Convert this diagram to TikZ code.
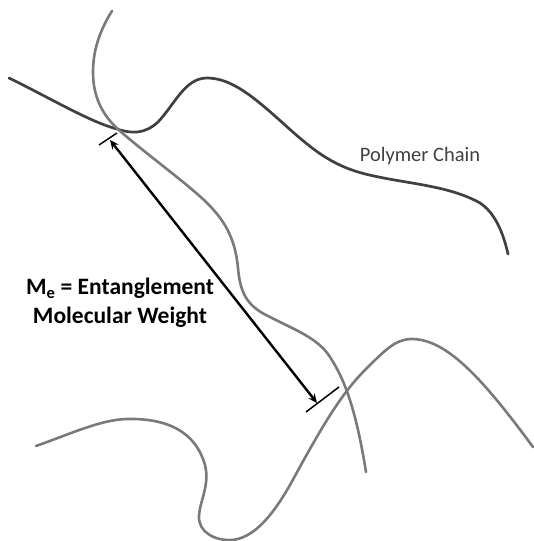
\documentclass[tikz,border=0pt]{standalone}
\usepackage{fontspec}
\setmainfont{Carlito}
\usetikzlibrary{arrows.meta}
\definecolor{darkchain}{HTML}{404040}
\definecolor{graychain}{HTML}{7A7A7A}
\begin{document}
\begin{tikzpicture}[x=1pt,y=-1pt,
  chainA/.style={draw=darkchain,line width=2.7pt,line cap=round},
  chainB/.style={draw=graychain,line width=2.6pt,line cap=round},
  tick/.style={draw=black,line width=1.5pt},
  dimarrow/.style={draw=black,line width=2.4pt,{Stealth[length=9pt,width=8pt]}-{Stealth[length=9pt,width=8pt]}}]
\useasboundingbox (0,0) rectangle (533,541);
% dark polymer chain
\draw[chainA] (9,78) .. controls (50,98) and (90,122) .. (117,129)
  .. controls (132,134) and (145,134) .. (158,122)
  .. controls (175,104) and (185,78) .. (207,78)
  .. controls (232,78) and (255,98) .. (285,125)
  .. controls (315,152) and (335,168) .. (374,176)
  .. controls (410,184) and (450,186) .. (480,203)
  .. controls (495,213) and (503,232) .. (508,254);
% gray chain 1
\draw[chainB] (112,11) .. controls (100,30) and (93,50) .. (93,72)
  .. controls (93,100) and (105,118) .. (120,131)
  .. controls (145,153) and (180,178) .. (204,200)
  .. controls (225,220) and (235,238) .. (238,268)
  .. controls (240,290) and (245,305) .. (268,316)
  .. controls (295,330) and (318,338) .. (330,357)
  .. controls (345,380) and (356,410) .. (366,472);
% gray chain 2
\draw[chainB] (36,446) .. controls (70,434) and (100,420) .. (126,419)
  .. controls (165,418) and (195,430) .. (205,465)
  .. controls (210,485) and (200,500) .. (199,516)
  .. controls (198,532) and (215,541) .. (232,540)
  .. controls (252,538) and (270,520) .. (290,485)
  .. controls (320,430) and (340,395) .. (365,370)
  .. controls (385,350) and (395,340) .. (410,339)
  .. controls (445,338) and (480,375) .. (533,447);
% ticks
\coordinate (t1a) at (99,145);
\coordinate (t1b) at (117,133);
\coordinate (t2a) at (306,412);
\coordinate (t2b) at (339,387);
\draw[tick] (t1a) -- (t1b);
\draw[tick] (t2a) -- (t2b);
\coordinate (a1) at (110,140);
\coordinate (a2) at (317,403);
\draw[dimarrow] (a1) -- (a2);
% labels
\node[text=darkchain,font=\fontsize{20.5}{24}\selectfont] (pc) at (420,156) {Polymer Chain};
\node[font=\bfseries\fontsize{23.5}{29}\selectfont,align=center] (me) at (120,303)
  {M\textsubscript{e} = Entanglement\\Molecular Weight};
\end{tikzpicture}
\end{document}
